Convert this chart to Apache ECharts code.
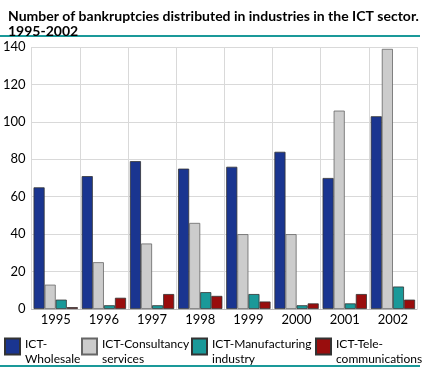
<!DOCTYPE html>
<html><head><meta charset="utf-8">
<script src="https://cdn.jsdelivr.net/npm/echarts@6/dist/echarts.min.js"></script>
<style>html,body{margin:0;padding:0;background:#fff}#c{width:425px;height:368px}</style>
</head><body><div id="c"></div>
<script>
var years = ['1995','1996','1997','1998','1999','2000','2001','2002'];
var wholesale = [65, 71, 79, 75, 76, 84, 70, 103];
var consultancy = [13, 25, 35, 46, 40, 40, 106, 139];
var manufacturing = [5, 2, 2, 9, 8, 2, 3, 12];
var telecom = [1, 6, 8, 7, 4, 3, 8, 5];
var seriesNames = ['ICT-\nWholesale', 'ICT-Consultancy\nservices', 'ICT-Manufacturing\nindustry', 'ICT-Tele-\ncommunications'];
var colors = ['#1a3590', '#cccccc', '#1a9999', '#990d0d'];
var yTicks = {min: 0, max: 140, interval: 20};

var FONT = 'Lato, sans-serif';
var chart = echarts.init(document.getElementById('c'));
var dataSets = [wholesale, consultancy, manufacturing, telecom];
var legendX = [4, 81, 191, 315];
var legendIcon = 'path://M0,0M0,30M0,1.5L15,1.5L15,17.5L0,17.5Z';
chart.setOption({
  animation: false,
  title: {
    text: 'Number of bankruptcies distributed in industries in the ICT sector.\n1995-2002',
    left: 3, top: 4,
    textStyle: {fontFamily: FONT, fontWeight: 'bold', fontSize: 14, lineHeight: 15, color: '#000'}
  },
  graphic: [
    {type: 'rect', shape: {x: 0, y: 35, width: 420, height: 2}, style: {fill: '#1a9999'}},
    {type: 'rect', shape: {x: 0, y: 365, width: 420, height: 2}, style: {fill: '#1a9999'}}
  ],
  legend: seriesNames.map(function (n, i) {
    return {
      data: [n], left: legendX[i], top: 336, itemWidth: 15, itemHeight: 30, itemGap: 0,
      icon: legendIcon, textStyle: {fontFamily: FONT, fontSize: 12, lineHeight: 15, color: '#000'},
      padding: 0, selectedMode: false
    };
  }),
  grid: {left: 26, right: 8, top: 47, bottom: 59, containLabel: false},
  xAxis: {
    type: 'category', data: years,
    axisLine: {show: true, lineStyle: {color: '#bbbbbb'}},
    axisTick: {show: false},
    splitLine: {show: true, interval: 0, lineStyle: {color: '#d9d9d9', width: 1}},
    axisLabel: {fontFamily: FONT, fontSize: 13, color: '#000', margin: 4}
  },
  yAxis: {
    type: 'value', min: yTicks.min, max: yTicks.max, interval: yTicks.interval,
    axisLine: {show: false}, axisTick: {show: false},
    splitLine: {lineStyle: {color: '#d9d9d9', width: 1}},
    axisLabel: {fontFamily: FONT, fontSize: 13, color: '#000', margin: 6}
  },
  series: dataSets.map(function (d, i) {
    return {
      name: seriesNames[i], type: 'bar', data: d,
      barGap: '0%', barCategoryGap: '8%',
      itemStyle: {color: colors[i], borderColor: i === 1 ? '#666666' : '#333333', borderWidth: 0.8}
    };
  })
});
</script></body></html>
